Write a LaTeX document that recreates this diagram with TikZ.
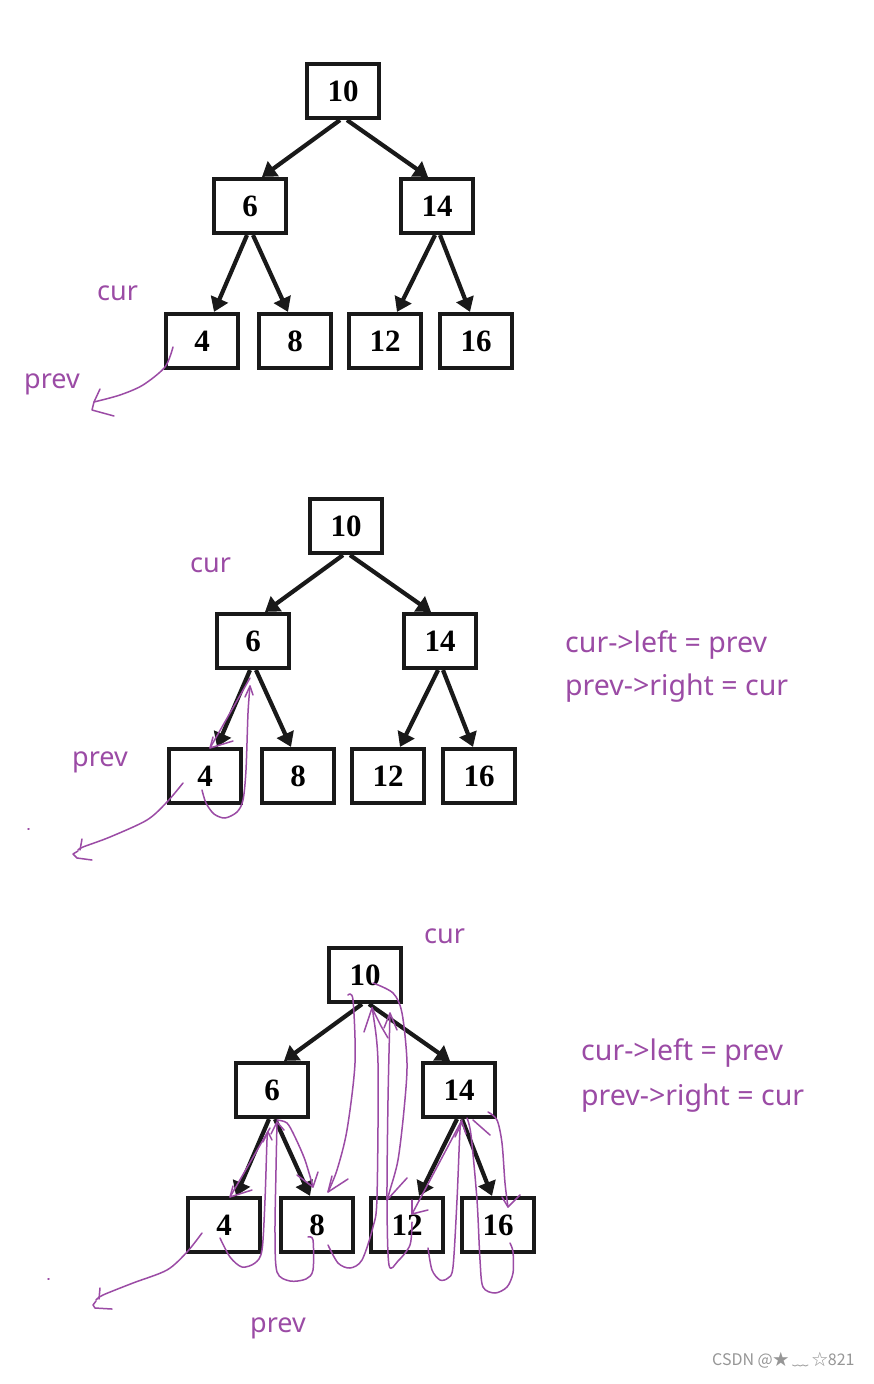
\documentclass[tikz,border=0pt]{standalone}
\usepackage{fontspec}
\setmainfont{Liberation Serif}
\newfontfamily\handfont{Noto Sans}
\newfontfamily\wmfont{Noto Sans CJK SC}
\usetikzlibrary{arrows.meta,calc}
\definecolor{penc}{RGB}{155,75,165}
\definecolor{wmc}{RGB}{150,150,150}
\newcommand\drawtree[3]{%
 \begin{scope}[shift={(#2,#3)}]
  \node[box] (#1n10) at (343,91) {10};
  \node[box] (#1n6) at (250,206) {6};
  \node[box] (#1n14) at (437,206) {14};
  \node[box] (#1n4) at (202,341) {4};
  \node[box] (#1n8) at (295,341) {8};
  \node[box] (#1n12) at (385,341) {12};
  \node[box] (#1n16) at (476,341) {16};
  \draw[tarrow] ($(#1n10.south)+(-3,0)$) -- ($(#1n6.north)+(12,0)$);
  \draw[tarrow] ($(#1n10.south)+(4,0)$) -- ($(#1n14.north)+(-9,0)$);
  \draw[tarrow] ($(#1n6.south)+(-3,0)$) -- ($(#1n4.north)+(12,0)$);
  \draw[tarrow] ($(#1n6.south)+(3,0)$) -- ($(#1n8.north)+(-7,0)$);
  \draw[tarrow] ($(#1n14.south)+(-2,0)$) -- ($(#1n12.north)+(12,0)$);
  \draw[tarrow] ($(#1n14.south)+(3,0)$) -- ($(#1n16.north)+(-6,0)$);
 \end{scope}}
\begin{document}
\begin{tikzpicture}[x=1pt,y=-1pt,
 box/.style={draw=black!90,line width=4.2pt,minimum width=72pt,minimum height=54pt,inner sep=0pt,fill=white,
   font=\fontsize{31}{31}\selectfont\bfseries},
 tarrow/.style={draw=black!90,line width=4.2pt,-{Triangle[width=18pt,length=14pt]}},
 ink/.style={draw=penc,line width=1.5pt,line cap=round,line join=round},
 lbl/.style={text=penc,font=\handfont\fontsize{27}{27}\selectfont,anchor=base west,inner sep=0pt},
 eqn/.style={text=penc,font=\handfont\fontsize{28.5}{28.5}\selectfont,anchor=base west,inner sep=0pt}]
\useasboundingbox[fill=white] (0,0) rectangle (874,1384);

% ---------- tree 1 ----------
\drawtree{a}{0}{0}
\node[lbl] (acur) at (97,300) {cur};
\node[lbl] (aprev) at (24,388) {prev};
\draw[ink] plot[smooth] coordinates {(173,347) (165,367) (143,385) (120,395) (94,402)};
\draw[ink] (100,389) -- (94,402) -- (92,410) -- (114,416);

% ---------- tree 2 ----------
\drawtree{b}{3}{435}
\node[lbl] (bcur) at (190,572) {cur};
\node[lbl] (bprev) at (72,766) {prev};
\node[eqn] (beq1) at (565,652) {cur->left = prev};
\node[eqn] (beq2) at (565,695) {prev->right = cur};
\draw[ink] (250,678) -- (210,748) -- (233,741);
\draw[ink] (213,737) -- (210,748);
\draw[ink] plot[smooth] coordinates {(202,790) (206,803) (214,814) (225,818) (237,812) (243,800) (246,770) (248,713) (250,686)};
\draw[ink] (245,697) -- (250,686) -- (253,695);
\draw[ink] plot[smooth] coordinates {(183,783) (167,802) (147,820) (110,837) (83,847) (78,850)};
\draw[ink] (82,839) -- (80,850);
\draw[ink] (78,851) -- (73,854) -- (77,858) -- (92,860);
\draw[ink] (28,829) -- (29,829);

% ---------- tree 3 ----------
\drawtree{c}{22}{884}
\node[lbl] (ccur) at (424,943) {cur};
\node[lbl] (cprev) at (250,1332) {prev};
\node[eqn] (ceq1) at (581,1060) {cur->left = prev};
\node[eqn] (ceq2) at (581,1105) {prev->right = cur};
% prev arrow
\draw[ink] plot[smooth] coordinates {(202,1233) (187,1252) (167,1270) (133,1283) (103,1295) (96,1300)};
\draw[ink] (100,1288) -- (99,1299);
\draw[ink] (96,1301) -- (93,1305) -- (95,1308) -- (112,1309);
\draw[ink] (48,1279) -- (49,1279);
% 6 -> 4
\draw[ink] (270,1128) -- (230,1197) -- (252,1190);
\draw[ink] (233,1186) -- (230,1197);
% 4 -> 6
\draw[ink] plot[smooth] coordinates {(220,1238) (230,1257) (242,1267) (255,1263) (262,1250) (265,1200) (267,1140) (268,1132)};
\draw[ink] (263,1142) -- (268,1132) -- (272,1140);
% 6 -> 8
\draw[ink] plot[smooth] coordinates {(277,1120) (287,1123) (295,1137) (305,1160) (313,1187)};
\draw[ink] (297,1175) -- (313,1187) -- (318,1172);
% 8 -> 6
\draw[ink] plot[smooth] coordinates {(308,1237) (313,1240) (313,1270) (306,1279) (290,1281) (277,1272) (275,1233) (276,1170) (277,1122)};
\draw[ink] (271,1134) -- (277,1122) -- (284,1130);
% 10 -> 8
\draw[ink] plot[smooth] coordinates {(348,995) (353,1000) (355,1063) (347,1130) (337,1170) (328,1192)};
\draw[ink] (332,1176) -- (328,1192) -- (348,1179);
% 8 -> 10
\draw[ink] plot[smooth] coordinates {(328,1245) (338,1263) (350,1268) (362,1260) (373,1227) (377,1197) (378,1063) (373,1013) (372,1008)};
\draw[ink] (364,1032) -- (372,1008) -- (381,1026) -- (388,1038);
% 10 -> 12
\draw[ink] plot[smooth] coordinates {(373,983) (393,993) (402,1013) (407,1063) (404,1110) (398,1160) (390,1190) (387,1200)};
\draw[ink] (387,1200) -- (407,1178);
% 12 -> 10
\draw[ink] plot[smooth] coordinates {(412,1222) (410,1245) (398,1261) (389,1265) (387,1200) (388,1100) (390,1013)};
\draw[ink] (384,1028) -- (390,1013) -- (397,1030);
% 14 -> 12
\draw[ink] (462,1120) -- (412,1214) -- (428,1210);
\draw[ink] (412,1200) -- (412,1214);
% 12 -> 14
\draw[ink] plot[smooth] coordinates {(428,1248) (432,1270) (440,1280) (448,1278) (453,1267) (457,1200) (460,1130) (462,1122)};
\draw[ink] (455,1137) -- (462,1122) -- (466,1134);
% 14 -> 16
\draw[ink] plot[smooth] coordinates {(488,1112) (497,1120) (502,1143) (505,1183) (508,1207)};
\draw[ink] (502,1197) -- (508,1207) -- (520,1195);
% 16 -> 14
\draw[ink] plot[smooth] coordinates {(510,1243) (513,1252) (513,1273) (507,1287) (495,1293) (483,1287) (480,1260) (477,1200) (471,1135) (467,1118)};
\draw[ink] (473,1120) -- (490,1135);

% watermark
\node[anchor=base west,inner sep=0pt,text=wmc,font=\wmfont\fontsize{16}{16}\selectfont] (wm) at (712,1365) {CSDN @★ ﹏ ☆821};
\end{tikzpicture}
\end{document}
